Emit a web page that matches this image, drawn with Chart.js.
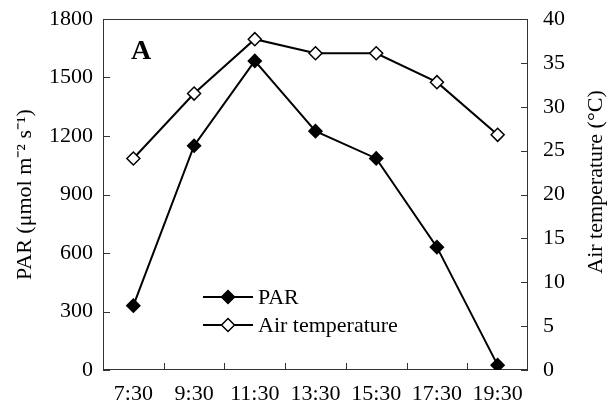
<!DOCTYPE html>
<html lang="en">
<head>
<meta charset="UTF-8">
<title>PAR and air temperature</title>
<script src="https://cdn.jsdelivr.net/npm/chart.js"></script>
<style>
  html, body { margin: 0; padding: 0; background: #fff; }
  #wrap { width: 612px; height: 412px; }
</style>
</head>
<body>
<div id="wrap"><canvas id="chart" width="612" height="412"></canvas></div>
<script>
// data
const times = ['7:30', '9:30', '11:30', '13:30', '15:30', '17:30', '19:30'];
const parValues = [330, 1150, 1585, 1225, 1085, 630, 25];
const airTemp = [24.1, 31.5, 37.7, 36.1, 36.1, 32.8, 26.8];
const parRange = [0, 1800, 300];
const tempRange = [0, 40, 5];

const FONT = 'Liberation Serif, Times New Roman, serif';
const SIZE = 22;

// box, inward tick marks, panel letter, right title, legend inside the plot
const framePlugin = {
    id: 'frame',
    beforeDatasetsDraw(chart) {
        const { ctx, chartArea: a, scales } = chart;
        const seg = (x1, y1, x2, y2) => { ctx.beginPath(); ctx.moveTo(x1, y1); ctx.lineTo(x2, y2); ctx.stroke(); };
        ctx.save();
        ctx.strokeStyle = '#333';
        ctx.lineWidth = 1;
        ctx.strokeRect(a.left + 0.5, a.top + 0.5, a.right - a.left - 1, a.bottom - a.top - 1);
        scales.y.ticks.forEach((t, i) => {
            const y = Math.round(scales.y.getPixelForTick(i)) + 0.5;
            seg(a.left, y, a.left + 7, y);
        });
        scales.y1.ticks.forEach((t, i) => {
            const y = Math.round(scales.y1.getPixelForTick(i)) + 0.5;
            seg(a.right, y, a.right - 7, y);
        });
        for (let i = 1; i < times.length; i++) {
            const x = Math.round((scales.x.getPixelForValue(i - 1) + scales.x.getPixelForValue(i)) / 2) + 0.5;
            seg(x, a.bottom, x, a.bottom - 7);
        }
        ctx.restore();
    },
    afterDraw(chart) {
        const { ctx, chartArea: a } = chart;
        ctx.save();
        ctx.fillStyle = '#000';
        ctx.font = 'bold 28px ' + FONT;
        ctx.textBaseline = 'middle';
        ctx.fillText('A', a.left + 28, 52);

        // right axis title, reading bottom to top
        ctx.save();
        ctx.translate(596, 182);
        ctx.rotate(-Math.PI / 2);
        ctx.textAlign = 'center';
        ctx.font = SIZE + 'px ' + FONT;
        ctx.fillText('Air temperature (\u00b0C)', 0, 0);
        ctx.restore();

        // legend
        ctx.font = SIZE + 'px ' + FONT;
        chart.data.datasets.forEach((ds, i) => {
            const x0 = 203, y = 297 + i * 28;
            ctx.strokeStyle = ds.borderColor;
            ctx.lineWidth = ds.borderWidth;
            ctx.beginPath(); ctx.moveTo(x0, y); ctx.lineTo(x0 + 50, y); ctx.stroke();
            const r = ds.pointRadius;
            ctx.beginPath();
            ctx.moveTo(x0 + 25, y - r); ctx.lineTo(x0 + 25 + r, y);
            ctx.lineTo(x0 + 25, y + r); ctx.lineTo(x0 + 25 - r, y);
            ctx.closePath();
            ctx.fillStyle = ds.pointBackgroundColor;
            ctx.fill();
            ctx.lineWidth = ds.pointBorderWidth;
            ctx.strokeStyle = ds.pointBorderColor;
            ctx.stroke();
            ctx.fillStyle = '#000';
            ctx.fillText(ds.label, x0 + 55, y + 1);
        });
        ctx.restore();
    }
};

// fixed axis sizes so the plot box sits where the figure has it
const fixWidth = w => s => { s.width = w; s.paddingTop = 0; s.paddingBottom = 0; };

const ctx = document.getElementById('chart').getContext('2d');
new Chart(ctx, {
    type: 'line',
    data: {
        labels: times,
        datasets: [
            {
                label: 'PAR',
                data: parValues,
                yAxisID: 'y',
                borderColor: '#000',
                borderWidth: 2,
                pointStyle: 'rectRot',
                pointRadius: 6.5,
                pointBackgroundColor: '#000',
                pointBorderColor: '#000',
                pointBorderWidth: 1.5,
                tension: 0
            },
            {
                label: 'Air temperature',
                data: airTemp,
                yAxisID: 'y1',
                borderColor: '#000',
                borderWidth: 2,
                pointStyle: 'rectRot',
                pointRadius: 6.5,
                pointBackgroundColor: '#fff',
                pointBorderColor: '#000',
                pointBorderWidth: 1.5,
                tension: 0
            }
        ]
    },
    options: {
        responsive: false,
        animation: false,
        layout: { padding: { top: 19, left: 0, right: 0, bottom: 0 } },
        plugins: {
            legend: { display: false },
            tooltip: { enabled: false }
        },
        scales: {
            x: {
                offset: true,
                grid: { display: false, drawTicks: false, offset: true },
                border: { display: false },
                ticks: { color: '#000', font: { family: FONT, size: SIZE }, padding: 11, maxRotation: 0 },
                afterFit: s => { s.height = 42; s.paddingLeft = 0; s.paddingRight = 0; }
            },
            y: {
                position: 'left',
                min: parRange[0],
                max: parRange[1],
                grid: { display: false, drawTicks: false },
                border: { display: false },
                ticks: {
                    stepSize: parRange[2],
                    color: '#000',
                    font: { family: FONT, size: SIZE },
                    padding: 10,
                    callback: v => String(v)
                },
                title: {
                    display: true,
                    text: 'PAR (\u03bcmol m\u207b\u00b2 s\u207b\u00b9)',
                    color: '#000',
                    font: { family: FONT, size: SIZE },
                    padding: { top: 12, bottom: 0 }
                },
                afterFit: fixWidth(103)
            },
            y1: {
                position: 'right',
                min: tempRange[0],
                max: tempRange[1],
                grid: { display: false, drawTicks: false },
                border: { display: false },
                ticks: {
                    stepSize: tempRange[2],
                    color: '#000',
                    font: { family: FONT, size: SIZE },
                    padding: 15,
                    callback: v => String(v)
                },
                afterFit: fixWidth(84)
            }
        }
    },
    plugins: [framePlugin]
});
</script>
</body>
</html>
